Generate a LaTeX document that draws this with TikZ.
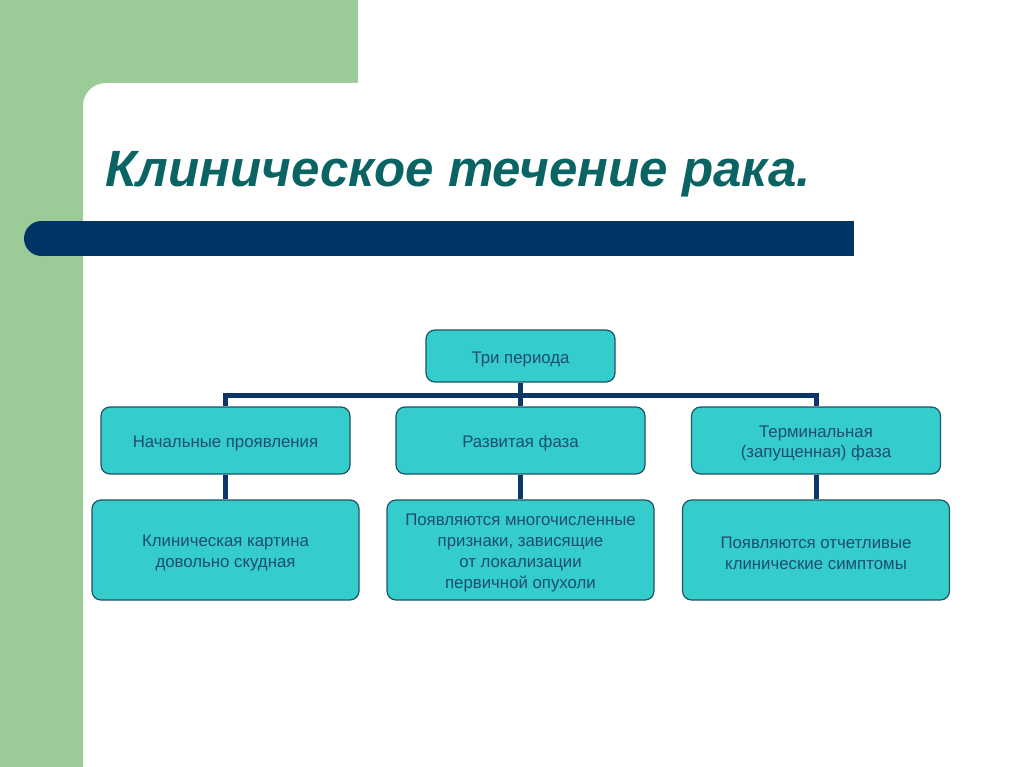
\documentclass[tikz,border=0pt]{standalone}
\usepackage{fontspec}
\setmainfont{Liberation Sans}
\usetikzlibrary{backgrounds}
\definecolor{bandgreen}{HTML}{9BCB97}
\definecolor{barnavy}{HTML}{003366}
\definecolor{titleteal}{HTML}{0B6464}
\definecolor{boxfill}{HTML}{35CCCC}
\definecolor{boxline}{HTML}{1C5566}
\definecolor{boxtext}{HTML}{1E4E6E}
\definecolor{linknavy}{HTML}{0C3568}
\begin{document}
\begin{tikzpicture}[x=1pt,y=-1pt,
  box/.style={draw=boxline, line width=1.2pt, fill=boxfill, rounded corners=9pt, inner sep=0pt},
  boxtxt/.style={text=boxtext, font=\fontsize{16.8}{20.7}\selectfont, align=center, inner sep=0pt, yshift=-3pt},
  midbox/.style={box, minimum width=249pt, minimum height=67pt},
  botbox/.style={box, minimum width=267pt, minimum height=100pt},
  link/.style={draw=linknavy, line width=5pt}]
\useasboundingbox (0,0) rectangle (1024,767);

% title
\node[anchor=base west, text=titleteal, inner sep=0pt,
  font=\fontsize{51}{60}\selectfont\bfseries\itshape] (title) at (105,187) {Клиническое течение рака.};

% boxes
\node[box, minimum width=189pt, minimum height=52pt] (top) at (520.5,356) {};
\node[midbox] (m1) at (225.5,440.5) {};
\node[midbox] (m2) at (520.5,440.5) {};
\node[midbox] (m3) at (816,440.5) {};
\node[botbox] (b1) at (225.5,550) {};
\node[botbox] (b2) at (520.5,550) {};
\node[botbox] (b3) at (816,550) {};

% box texts
\node[boxtxt] (topt) at (top.center) {Три периода};
\node[boxtxt] (m1t) at (m1.center) {Начальные проявления};
\node[boxtxt] (m2t) at (m2.center) {Развитая фаза};
\node[boxtxt] (m3t) at (m3.center) {Терминальная\\(запущенная) фаза};
\node[boxtxt] (b1t) at (b1.center) {Клиническая картина\\довольно скудная};
\node[boxtxt] (b2t) at (b2.center) {Появляются многочисленные\\признаки, зависящие\\от локализации\\первичной опухоли};
\node[boxtxt] (b3t) at (b3.center) {Появляются отчетливые\\клинические симптомы};
\coordinate (bus) at (520.5,395);

\begin{scope}[on background layer]
  \fill[white] (0,0) rectangle (1024,767);
  \fill[bandgreen] (0,0) rectangle (83,767);
  \fill[bandgreen] (0,0) rectangle (358,83);
  \fill[bandgreen] (0,0) rectangle (130,130);
  \fill[white, rounded corners=23pt] (83,900) -- (83,83) -- (1100,83) -- (1100,900) -- cycle;
  \fill[barnavy] (41.5,221) rectangle (854,256);
  \fill[barnavy] (41.5,238.5) circle[radius=17.5];
  \draw[link] (m1.north) |- (bus) -| (m3.north);
  \draw[link] (top.south) -- (m2.north);
  \draw[link] (m1.south) -- (b1.north);
  \draw[link] (m2.south) -- (b2.north);
  \draw[link] (m3.south) -- (b3.north);
\end{scope}
\end{tikzpicture}
\end{document}
